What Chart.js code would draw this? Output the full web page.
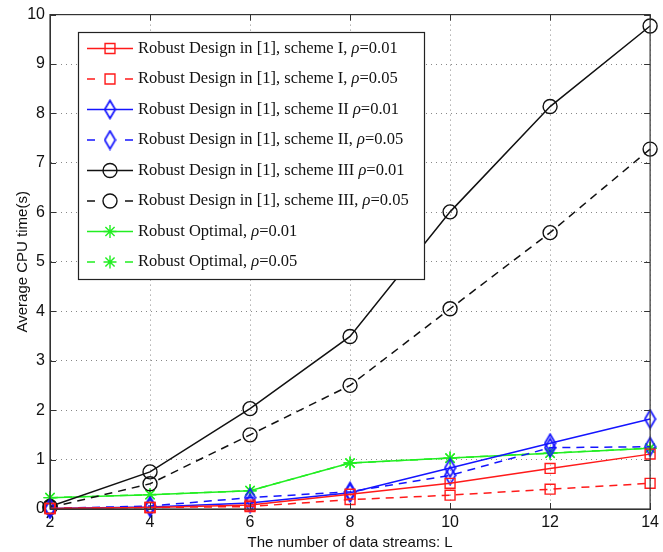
<!DOCTYPE html>
<html>
<head>
<meta charset="utf-8">
<script src="https://cdn.jsdelivr.net/npm/chart.js@4/dist/chart.umd.min.js"></script>
<style>
  html, body { margin: 0; padding: 0; background: #fff; }
  #wrap { width: 663px; height: 552px; }
</style>
</head>
<body>
<div id="wrap"><canvas id="cpu" width="663" height="552"></canvas></div>
<script>
// Number of data streams L
const streams = [2, 4, 6, 8, 10, 12, 14];

// Average CPU time (s) per method
const schemeI_rho001   = [0.01, 0.03, 0.08, 0.30, 0.52, 0.82, 1.11];
const schemeI_rho005   = [0.01, 0.03, 0.05, 0.19, 0.28, 0.40, 0.52];
const schemeII_rho001  = [0.01, 0.04, 0.12, 0.33, 0.83, 1.33, 1.82];
const schemeII_rho005  = [0.01, 0.06, 0.23, 0.35, 0.68, 1.24, 1.26];
const schemeIII_rho001 = [0.05, 0.75, 2.03, 3.49, 6.01, 8.14, 9.77];
const schemeIII_rho005 = [0.03, 0.51, 1.50, 2.50, 4.05, 5.59, 7.28];
const optimal_rho001   = [0.23, 0.29, 0.37, 0.93, 1.03, 1.13, 1.23];
const optimal_rho005   = [0.23, 0.29, 0.37, 0.93, 1.03, 1.13, 1.23];

const xTicks = [2, 4, 6, 8, 10, 12, 14];
const yTicks = [0, 1, 2, 3, 4, 5, 6, 7, 8, 9, 10];

const seriesNames = [
  ['Robust Design in [1], scheme I, ', '0.01'],
  ['Robust Design in [1], scheme I, ', '0.05'],
  ['Robust Design in [1], scheme II ', '0.01'],
  ['Robust Design in [1], scheme II, ', '0.05'],
  ['Robust Design in [1], scheme III ', '0.01'],
  ['Robust Design in [1], scheme III, ', '0.05'],
  ['Robust Optimal, ', '0.01'],
  ['Robust Optimal, ', '0.05']
];

const RED = '#ff1a1a', BLUE = '#1414ff', BLACK = '#111111', GREEN = '#22ee22';
const DASH = [8, 6];

// tall open diamond marker
function diamond(color) {
  const c = document.createElement('canvas');
  c.width = 13; c.height = 21;
  const g = c.getContext('2d');
  g.strokeStyle = color; g.lineWidth = 1.7;
  g.beginPath();
  g.moveTo(6.5, 1.5); g.lineTo(11.8, 10.5); g.lineTo(6.5, 19.5); g.lineTo(1.2, 10.5);
  g.closePath(); g.stroke();
  return c;
}
const blueDiamond = diamond(BLUE);

function pts(values) { return streams.map((x, i) => ({ x: x, y: values[i] })); }

function series(i, values, color, dashed, style, radius) {
  return {
    label: seriesNames[i][0] + 'ρ=' + seriesNames[i][1],
    nameIndex: i,
    data: pts(values),
    borderColor: color,
    borderWidth: 1.5,
    borderDash: dashed ? DASH : [],
    pointStyle: style,
    pointRadius: radius,
    pointHoverRadius: radius,
    pointBorderColor: color,
    pointBackgroundColor: 'rgba(0,0,0,0)',
    pointBorderWidth: 1.4,
    fill: false,
    tension: 0,
    clip: false
  };
}

const datasets = [
  series(0, schemeI_rho001, RED, false, 'rect', 7),
  series(1, schemeI_rho005, RED, true, 'rect', 7),
  series(2, schemeII_rho001, BLUE, false, blueDiamond, 9),
  series(3, schemeII_rho005, BLUE, true, blueDiamond, 9),
  series(4, schemeIII_rho001, BLACK, false, 'circle', 7),
  series(5, schemeIII_rho005, BLACK, true, 'circle', 7),
  series(7, optimal_rho005, GREEN, true, 'star', 6.5),
  series(6, optimal_rho001, GREEN, false, 'star', 6.5)
];
// legend order follows the series names
const legendOrder = [0, 1, 2, 3, 4, 5, 7, 6];

// full box around the plot with inward tick marks
const boxFrame = {
  id: 'boxFrame',
  afterDatasetsDraw(chart) {
    const { ctx, chartArea: a, scales: { x, y } } = chart;
    ctx.save();
    ctx.strokeStyle = '#333';
    ctx.lineWidth = 1.2;
    ctx.setLineDash([]);
    ctx.strokeRect(a.left, a.top, a.right - a.left, a.bottom - a.top);
    ctx.lineWidth = 1;
    const t = 6;
    ctx.beginPath();
    xTicks.forEach(v => {
      const px = Math.round(x.getPixelForValue(v)) + 0.5;
      ctx.moveTo(px, a.bottom); ctx.lineTo(px, a.bottom - t);
      ctx.moveTo(px, a.top); ctx.lineTo(px, a.top + t);
    });
    yTicks.forEach(v => {
      const py = Math.round(y.getPixelForValue(v)) + 0.5;
      ctx.moveTo(a.left, py); ctx.lineTo(a.left + t, py);
      ctx.moveTo(a.right, py); ctx.lineTo(a.right - t, py);
    });
    ctx.stroke();
    ctx.restore();
  }
};

// boxed legend inside the plot
const boxLegend = {
  id: 'boxLegend',
  afterDraw(chart) {
    const { ctx } = chart;
    const left = 78, top = 32, right = 424, bottom = 279;
    ctx.save();
    ctx.fillStyle = '#fff';
    ctx.fillRect(left, top, right - left, bottom - top);
    ctx.strokeStyle = '#222';
    ctx.lineWidth = 1.2;
    ctx.setLineDash([]);
    ctx.strokeRect(left + 0.5, top + 0.5, right - left, bottom - top);

    const row0 = 48.5, step = 30.5;
    const x1 = 87, x2 = 133, mx = 110, tx = 138;
    const fontN = '16.5px "Liberation Serif"';
    const fontI = 'italic 16.5px "Liberation Serif"';
    legendOrder.forEach((di, r) => {
      const ds = chart.data.datasets[di];
      const yy = row0 + r * step;
      ctx.strokeStyle = ds.borderColor;
      ctx.lineWidth = ds.borderWidth;
      ctx.setLineDash([]);
      ctx.beginPath();
      if (ds.borderDash.length) {
        ctx.moveTo(x1, yy); ctx.lineTo(x1 + 8, yy);
        ctx.moveTo(x2 - 8, yy); ctx.lineTo(x2, yy);
      } else {
        ctx.moveTo(x1, yy); ctx.lineTo(x2, yy);
      }
      ctx.stroke();
      ctx.lineWidth = ds.pointBorderWidth;
      ctx.fillStyle = 'rgba(0,0,0,0)';
      Chart.helpers.drawPoint(ctx, {
        pointStyle: ds.pointStyle,
        rotation: 0,
        radius: ds.pointRadius,
        borderWidth: ds.pointBorderWidth
      }, mx, yy);

      const [pre, val] = seriesNames[ds.nameIndex];
      ctx.fillStyle = '#111';
      ctx.textBaseline = 'middle';
      ctx.textAlign = 'left';
      let cx = tx;
      ctx.font = fontN;
      ctx.fillText(pre, cx, yy);
      cx += ctx.measureText(pre).width;
      ctx.font = fontI;
      ctx.fillText('ρ', cx, yy);
      cx += ctx.measureText('ρ').width;
      ctx.font = fontN;
      ctx.fillText('=' + val, cx, yy);
    });
    ctx.restore();
  }
};

const tickFont = { family: '"Liberation Sans", Arial, sans-serif', size: 16 };
const titleFont = { family: '"Liberation Sans", Arial, sans-serif', size: 15 };

new Chart(document.getElementById('cpu'), {
  type: 'line',
  data: { datasets: datasets },
  options: {
    responsive: false,
    devicePixelRatio: 1,
    animation: false,
    events: [],
    layout: { padding: { top: 8, right: 9, left: 0, bottom: 0 } },
    plugins: { legend: { display: false }, tooltip: { enabled: false } },
    scales: {
      x: {
        type: 'linear',
        min: 2, max: 14,
        afterBuildTicks(s) { s.ticks = xTicks.map(v => ({ value: v })); },
        afterFit(s) { s.height = 43; },
        ticks: { color: '#111', font: tickFont, padding: 4, maxRotation: 0 },
        grid: { color: '#888', lineWidth: 1, tickLength: 0, drawTicks: false },
        border: { display: true, color: '#333', dash: [1, 4] },
        title: {
          display: true,
          text: 'The number of data streams: L',
          color: '#111',
          font: titleFont,
          padding: { top: 0, bottom: 0 }
        }
      },
      y: {
        type: 'linear',
        min: 0, max: 10,
        afterBuildTicks(s) { s.ticks = yTicks.map(v => ({ value: v })); },
        afterFit(s) { s.width = 50; },
        ticks: { color: '#111', font: tickFont, padding: 5 },
        grid: { color: '#888', lineWidth: 1, tickLength: 0, drawTicks: false },
        border: { display: true, color: '#333', dash: [1, 4] },
        title: {
          display: true,
          text: 'Average CPU time(s)',
          color: '#111',
          font: titleFont,
          padding: { top: 14, bottom: 0 }
        }
      }
    }
  },
  plugins: [boxFrame, boxLegend]
});
</script>
</body>
</html>
